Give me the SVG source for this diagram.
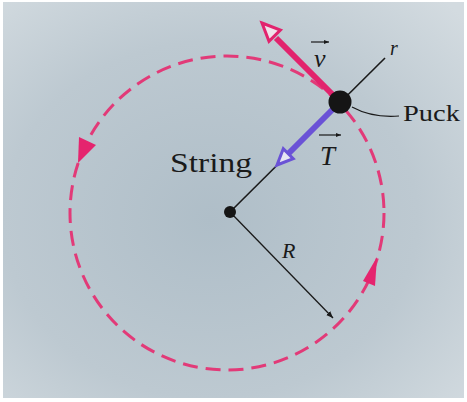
<svg xmlns="http://www.w3.org/2000/svg" width="467" height="402" viewBox="0 0 467 402">
<defs>
<radialGradient id="bg" cx="0.45" cy="0.55" r="0.75">
<stop offset="0" stop-color="#afbec8"/>
<stop offset="0.6" stop-color="#bdc9d1"/>
<stop offset="1" stop-color="#d3dbe0"/>
</radialGradient>
<marker id="ah" viewBox="0 0 10 10" refX="10" refY="5" markerWidth="7" markerHeight="7" orient="auto" markerUnits="userSpaceOnUse">
<path d="M0,1 L10,5 L0,9 Z" fill="#1a1a1a"/>
</marker>
<marker id="sm" viewBox="0 0 10 10" refX="10" refY="5" markerWidth="5" markerHeight="5" orient="auto" markerUnits="userSpaceOnUse">
<path d="M0,1 L10,5 L0,9 Z" fill="#1a1a1a"/>
</marker>
</defs>
<style>
.lbl{font-family:"Liberation Serif","DejaVu Serif",serif;fill:#1a1a1a}
.it{font-style:italic}
.blk{stroke:#1a1a1a;fill:none}
.dir{fill:#e5246e}
</style>
<rect x="0" y="0" width="467" height="402" fill="#ffffff"/>
<rect x="3" y="2" width="461" height="396" fill="url(#bg)"/>

<g id="connectors">
<circle id="path-circle" cx="227" cy="213" r="157" fill="none" stroke="#e23a78" stroke-width="3" stroke-dasharray="15 8"/>
<polygon class="dir" points="79,137 96,145 78,163"/>
<polygon class="dir" points="377,257 363,281 375,286"/>
<line class="blk" x1="230" y1="212" x2="385" y2="58" stroke-width="1.6"/>
<line class="blk" x1="230" y1="212" x2="333" y2="318" stroke-width="1.3" marker-end="url(#ah)"/>
<path class="blk" d="M352,107 Q372,118 399,116" stroke-width="1.2"/>
<line x1="333" y1="95" x2="276" y2="38" stroke="#e2236d" stroke-width="6"/>
<polygon points="262,23 280.4,30 269,41.4" fill="#efe3ea" stroke="#e2236d" stroke-width="3" stroke-linejoin="miter"/>
<line x1="334" y1="108" x2="289" y2="153" stroke="#6a52d6" stroke-width="6"/>
<polygon points="277,165 293.2,158.6 283.3,148.7" fill="#e6e4f2" stroke="#6a52d6" stroke-width="3"/>
<line class="blk" x1="311" y1="42" x2="329" y2="42" stroke-width="1.2" marker-end="url(#sm)"/>
<line class="blk" x1="319" y1="135" x2="341" y2="135" stroke-width="1.2" marker-end="url(#sm)"/>
</g>

<g id="puck"><circle cx="340" cy="102" r="11.5" fill="#151515"/></g>
<g id="center"><circle cx="230" cy="212" r="6" fill="#151515"/></g>

<g id="labels">
<text class="lbl it" x="314" y="67" font-size="26">v</text>
<text class="lbl it" x="320" y="165" font-size="27">T</text>
<text class="lbl it" x="390" y="55" font-size="20">r</text>
<text class="lbl" x="403" y="121" font-size="24" textLength="57" lengthAdjust="spacingAndGlyphs">Puck</text>
<text class="lbl" x="170" y="172" font-size="27" textLength="82" lengthAdjust="spacingAndGlyphs">String</text>
<text class="lbl it" x="282" y="258" font-size="22">R</text>
</g>
</svg>
